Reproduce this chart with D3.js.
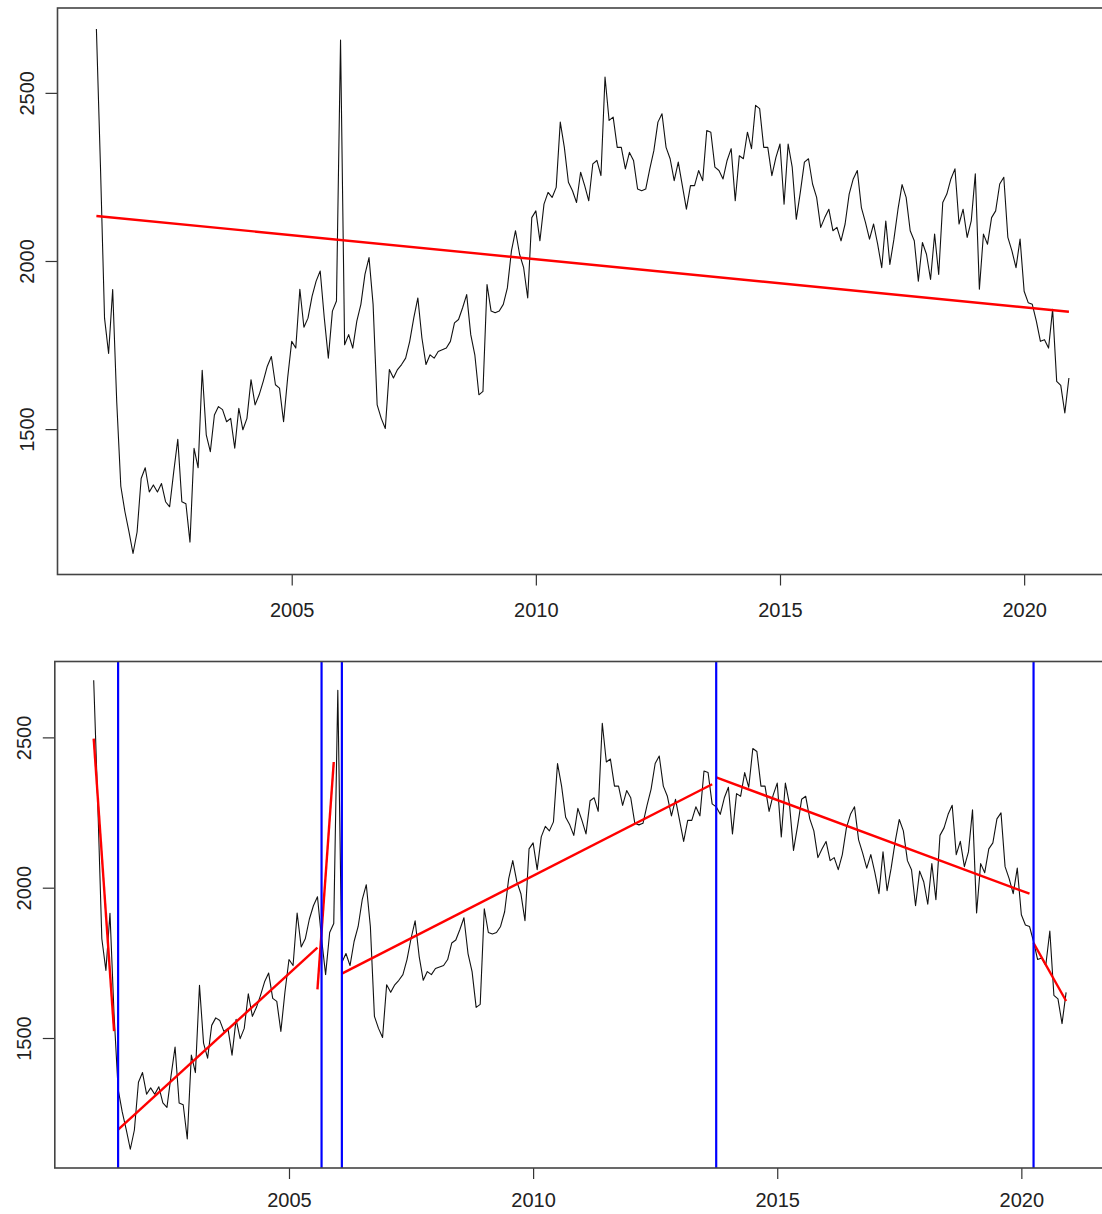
<!DOCTYPE html>
<html>
<head>
<meta charset="utf-8">
<script src="https://cdn.jsdelivr.net/npm/d3@7"></script>
<style>
  body { margin: 0; background: #fff; }
  svg { display: block; }
  text { font-family: "Liberation Sans", Arial, sans-serif; }
</style>
</head>
<body>
<svg id="chart" width="1102" height="1214"></svg>
<script>
// Monthly series, January 2001 onwards
const startYear = 2001;
const monthly = [
  2690, 2280, 1830, 1725, 1915, 1580, 1330, 1255, 1195, 1130, 1194, 1353,
  1385, 1313, 1334, 1313, 1338, 1284, 1269, 1373, 1470, 1284, 1278, 1164,
  1443, 1385, 1675, 1483, 1433, 1542, 1567, 1558, 1522, 1532, 1443, 1562,
  1498, 1532, 1647, 1572, 1602, 1642, 1687, 1716, 1632, 1622, 1522, 1652,
  1761, 1741, 1916, 1803, 1830, 1895, 1940, 1970, 1831, 1711, 1851, 1881,
  2657, 1751, 1781, 1741, 1821, 1871, 1960, 2010, 1871, 1572, 1532, 1502,
  1677, 1652, 1677, 1692, 1711, 1761, 1831, 1890, 1771, 1692, 1721, 1711,
  1731, 1736, 1741, 1761, 1816, 1826, 1861, 1900, 1781, 1721, 1602, 1612,
  1930, 1851, 1846, 1851, 1871, 1920, 2030, 2090, 2020, 1980, 1890, 2129,
  2149, 2060, 2169, 2204, 2189, 2219, 2413, 2338, 2234, 2209, 2174, 2264,
  2224, 2179, 2289, 2299, 2254, 2547, 2418, 2428, 2338, 2338, 2274, 2323,
  2299, 2214, 2209, 2214, 2274, 2328, 2413, 2438, 2338, 2304, 2239, 2294,
  2224, 2154, 2224, 2224, 2269, 2239, 2388, 2383, 2279, 2269, 2244, 2299,
  2334, 2179, 2313, 2304, 2383, 2334, 2463, 2453, 2338, 2338, 2254, 2308,
  2348, 2169, 2348, 2279, 2124, 2205, 2294, 2304, 2229, 2189, 2100, 2129,
  2154, 2090, 2100, 2060, 2110, 2199, 2244, 2269, 2159, 2115, 2065, 2110,
  2050, 1980, 2119, 1990, 2065, 2154, 2227, 2189, 2090, 2060, 1940, 2055,
  2020, 1945, 2080, 1960, 2174, 2199, 2244, 2274, 2110, 2154, 2070, 2119,
  2259, 1916, 2080, 2050, 2129, 2149, 2229, 2249, 2070, 2030, 1980, 2065,
  1910, 1876, 1871, 1821, 1761, 1766, 1741, 1856, 1642, 1630, 1548, 1652
];

const xTicks = [2005, 2010, 2015, 2020];
const yTicks = [1500, 2000, 2500];

// Single linear trend: fitted value at the first and last month
const trendEnds = [2134, 1849];

// Structural breaks and the piecewise linear fits between them
const breakYears = [2001.5, 2005.667, 2006.083, 2013.75, 2020.25];
const segStart = [2001.0, 2001.5, 2005.583, 2006.083, 2013.75, 2020.25];
const segEnd   = [2001.417, 2005.583, 2005.917, 2013.667, 2020.167, 2020.917];
const segFrom  = [2496, 1195, 1662, 1714, 2367, 1816];
const segTo    = [1523, 1801, 2418, 2344, 1980, 1623];

const series = monthly.map((v, i) => ({ t: startYear + i / 12, v }));

const svg = d3.select("#chart");

// R-style axis limits: data range padded by 4% on each side
function padded(ext) {
  const r = ext[1] - ext[0];
  return [ext[0] - 0.04 * r, ext[1] + 0.04 * r];
}
const tDomain = padded(d3.extent(series, d => d.t));
const vDomain = padded(d3.extent(series, d => d.v));

function panel(box, labelPad, clipId) {
  const x = d3.scaleLinear().domain(tDomain).range([box.left, box.right]);
  const y = d3.scaleLinear().domain(vDomain).range([box.bottom, box.top]);
  const g = svg.append("g");

  svg.append("clipPath").attr("id", clipId)
    .append("rect")
    .attr("x", box.left).attr("y", box.top)
    .attr("width", box.right - box.left).attr("height", box.bottom - box.top);

  const plot = g.append("g").attr("clip-path", `url(#${clipId})`);

  // x axis
  const xa = g.append("g")
    .attr("transform", `translate(0,${box.bottom})`)
    .call(d3.axisBottom(x).tickValues(xTicks).tickSize(11)
      .tickPadding(labelPad).tickFormat(d3.format("d")));
  xa.select(".domain").remove();
  xa.selectAll(".tick line").attr("stroke", "#333").attr("stroke-width", 1.2);
  xa.selectAll(".tick text").attr("font-size", 20).attr("fill", "#222")
    .attr("font-family", "'Liberation Sans', Arial, sans-serif");

  // y axis with labels turned parallel to the axis
  const ya = g.append("g")
    .attr("transform", `translate(${box.left},0)`)
    .call(d3.axisLeft(y).tickValues(yTicks).tickSize(12).tickFormat(d3.format("d")));
  ya.select(".domain").remove();
  ya.selectAll(".tick line").attr("stroke", "#333").attr("stroke-width", 1.2);
  ya.selectAll(".tick text")
    .attr("x", null).attr("dy", null)
    .attr("text-anchor", "middle")
    .attr("transform", "translate(-24,0) rotate(-90)")
    .attr("font-size", 20).attr("fill", "#222")
    .attr("font-family", "'Liberation Sans', Arial, sans-serif");

  // frame
  g.append("rect")
    .attr("x", box.left).attr("y", box.top)
    .attr("width", box.right - box.left).attr("height", box.bottom - box.top)
    .attr("fill", "none").attr("stroke", "#444").attr("stroke-width", 1.6);

  // the series
  plot.append("path")
    .datum(series)
    .attr("fill", "none")
    .attr("stroke", "#111")
    .attr("stroke-width", 1.1)
    .attr("stroke-linejoin", "round")
    .attr("d", d3.line().x(d => x(d.t)).y(d => y(d.v)));

  return { x, y, plot };
}

// Upper panel: series with overall linear trend
const upper = panel({ left: 57.5, right: 1107.8, top: 8, bottom: 574.5 }, 17, "clipUpper");
upper.plot.append("line")
  .attr("x1", upper.x(series[0].t)).attr("y1", upper.y(trendEnds[0]))
  .attr("x2", upper.x(series[series.length - 1].t)).attr("y2", upper.y(trendEnds[1]))
  .attr("stroke", "#ff0000").attr("stroke-width", 2.4);

// Lower panel: series with segmented fits and break dates
const lower = panel({ left: 54.8, right: 1105, top: 661.5, bottom: 1168 }, 14, "clipLower");
lower.plot.selectAll("line.seg")
  .data(segStart.map((s, i) => ({ s, e: segEnd[i], a: segFrom[i], b: segTo[i] })))
  .join("line")
  .attr("class", "seg")
  .attr("x1", d => lower.x(d.s)).attr("y1", d => lower.y(d.a))
  .attr("x2", d => lower.x(d.e)).attr("y2", d => lower.y(d.b))
  .attr("stroke", "#ff0000").attr("stroke-width", 2.4);

lower.plot.selectAll("line.brk")
  .data(breakYears)
  .join("line")
  .attr("class", "brk")
  .attr("x1", d => lower.x(d)).attr("x2", d => lower.x(d))
  .attr("y1", 661.5).attr("y2", 1168)
  .attr("stroke", "#0000ff").attr("stroke-width", 2.2);
</script>
</body>
</html>
